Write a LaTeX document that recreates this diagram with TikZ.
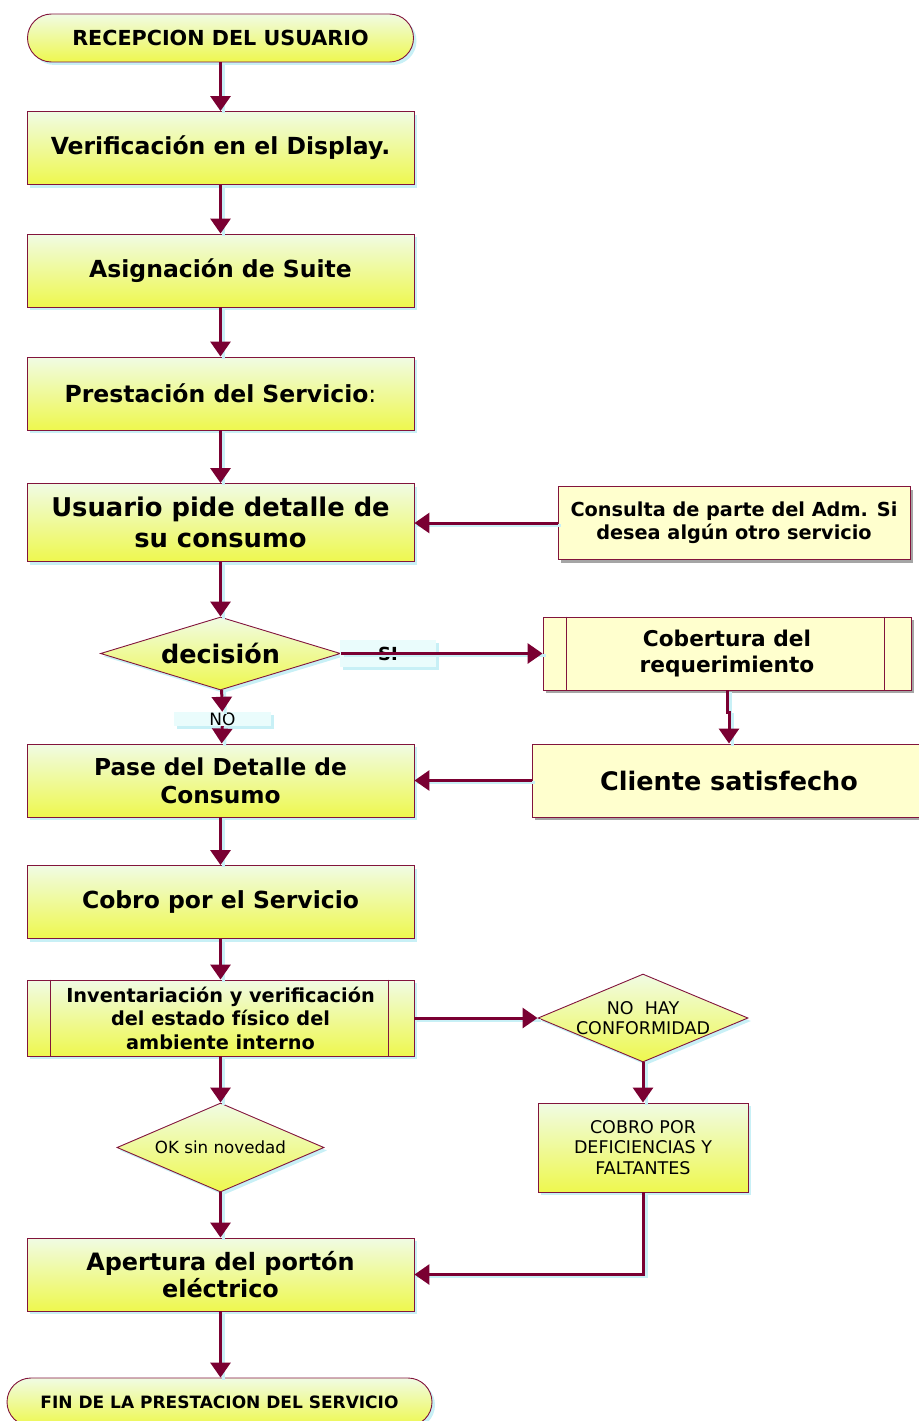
\documentclass[tikz,border=0pt]{standalone}
\usepackage{fontspec}
\setmainfont{DejaVu Sans}
\usetikzlibrary{shapes.geometric,shadows,arrows.meta}
\definecolor{bordc}{RGB}{130,20,60}
\definecolor{arrc}{RGB}{122,0,50}
\definecolor{gtop}{RGB}{240,251,228}
\definecolor{gbot}{RGB}{238,248,78}
\definecolor{flatc}{RGB}{255,255,206}
\definecolor{shadc}{RGB}{200,240,246}
\definecolor{grayshad}{RGB}{165,165,165}
\definecolor{lblc}{RGB}{234,252,252}
\newcommand\fz[2]{\fontsize{#1}{#2}\selectfont}
\tikzset{
  x=1pt, y=-1pt,
  box/.style={draw=bordc, line width=0.9pt, top color=gtop, bottom color=gbot,
    minimum width=387pt, minimum height=73pt, align=center, inner sep=0pt,
    font=\bfseries\fz{23.5}{28},
    drop shadow={shadow xshift=3pt, shadow yshift=-3pt, fill=shadc, opacity=1}},
  term/.style={box, rounded corners=24pt, minimum width=386pt, minimum height=48pt},
  flat/.style={draw=bordc, line width=0.9pt, fill=flatc, align=center, inner sep=0pt,
    minimum height=73pt, font=\bfseries\fz{19.3}{23},
    drop shadow={shadow xshift=3pt, shadow yshift=-3pt, fill=grayshad, opacity=1}},
  dia/.style={diamond, draw=bordc, line width=0.9pt, top color=gtop, bottom color=gbot,
    inner sep=0pt, shape aspect=3, align=center,
    drop shadow={shadow xshift=3pt, shadow yshift=-3pt, fill=shadc, opacity=1}},
  lbl/.style={fill=lblc, inner sep=0pt, align=center,
    drop shadow={shadow xshift=3pt, shadow yshift=-3pt, fill=shadc, opacity=1}},
  arr/.style={draw=arrc, line width=3pt, -{Triangle[width=20pt,length=15pt]},
    preaction={draw=shadc, line width=3pt, -, transform canvas={shift={(3pt,-2pt)}}}},
}
\begin{document}
\begin{tikzpicture}
\useasboundingbox (0,0) rectangle (918,1421);
% main column
\node[term, font=\bfseries\fz{20.7}{24}] (rec) at (220.5,38) {RECEPCION DEL USUARIO};
\node[box] (ver) at (220.5,148) {Verificación en el Display.};
\node[box] (asi) at (220.5,270.5) {Asignación de Suite};
\node[box] (pre) at (220.5,393.5) {Prestación del Servicio\textmd{:}};
\node[box, minimum height=78pt, font=\bfseries\fz{25.8}{31}] (usu) at (220.5,522.5) {Usuario pide detalle de\\su consumo};
\node[dia, minimum width=240pt, minimum height=73pt, font=\bfseries\fz{25.5}{30}] (dec) at (220.5,653.5) {decisión};
\node[lbl, minimum width=97pt, minimum height=14pt, font=\fz{17}{17}] (no) at (222.5,719) {NO};
\node[box, font=\bfseries\fz{23.3}{28}] (pas) at (220.5,780.5) {Pase del Detalle de\\Consumo};
\node[box] (cbs) at (220.5,902) {Cobro por el Servicio};
\node[box, minimum height=76pt, font=\bfseries\fz{19.3}{23.5}] (inv) at (220.5,1018) {Inventariación y verificación\\del estado físico del\\ambiente interno};
\draw[bordc, line width=0.9pt] ([xshift=24pt]inv.north west) -- ([xshift=24pt]inv.south west)
  ([xshift=-26pt]inv.north east) -- ([xshift=-26pt]inv.south east);
\node[dia, minimum width=207pt, minimum height=89pt, font=\fz{16.7}{20}] (ok) at (220.5,1147.5) {OK sin novedad};
\node[box, font=\bfseries\fz{23.9}{27}] (ape) at (220.5,1274.5) {Apertura del portón\\eléctrico};
\node[term, minimum width=425pt, font=\bfseries\fz{17}{20}] (fin) at (219.5,1402) {FIN DE LA PRESTACION DEL SERVICIO};
% right column
\node[flat, minimum width=352pt] (con) at (734,523) {Consulta de parte del Adm. Si\\desea algún otro servicio};
\node[flat, minimum width=368pt, font=\bfseries\fz{21.7}{26}] (cbr) at (727,653.5) {Cobertura del\\requerimiento};
\draw[bordc, line width=0.9pt] ([xshift=24pt]cbr.north west) -- ([xshift=24pt]cbr.south west)
  ([xshift=-27pt]cbr.north east) -- ([xshift=-27pt]cbr.south east);
\node[flat, minimum width=394pt, font=\bfseries\fz{25.5}{30}] (cli) at (729,780.5) {Cliente satisfecho};
\node[dia, minimum width=210pt, minimum height=88pt,
  label={[font=\fz{17.5}{20}, align=center]center:{NO~~HAY\\CONFORMIDAD}}] (nh) at (643,1018) {};
\node[box, minimum width=210pt, minimum height=89pt, font=\fz{17.5}{20.5}] (cdf) at (643,1147.5) {COBRO POR\\DEFICIENCIAS Y\\FALTANTES};
\node[lbl, minimum width=96pt, minimum height=27pt, font=\bfseries\fz{18}{20}] (si) at (388,653.5) {SI};
% connectors
\draw[arr] (rec) -- (ver);
\draw[arr] (ver) -- (asi);
\draw[arr] (asi) -- (pre);
\draw[arr] (pre) -- (usu);
\draw[arr] (con.west) -- (con.west -| usu.east);
\draw[arr] (usu) -- (dec);
\draw[arr] (dec) -- (cbr);
\draw[arr] (dec) -- (no);
\draw[arr] (no) -- (pas);
\draw[arr] (cbr.south) -- ++(0,22) -| (cli.north);
\draw[arr] (cli.west) -- (pas.east);
\draw[arr] (pas) -- (cbs);
\draw[arr] (cbs) -- (inv);
\draw[arr] (inv.east) -- (nh.west);
\draw[arr] (nh) -- (cdf);
\draw[arr] (cdf.south) |- (ape.east);
\draw[arr] (inv) -- (ok);
\draw[arr] (ok) -- (ape);
\draw[arr] (ape.south) -- (ape.south |- fin.north);
\end{tikzpicture}
\end{document}
